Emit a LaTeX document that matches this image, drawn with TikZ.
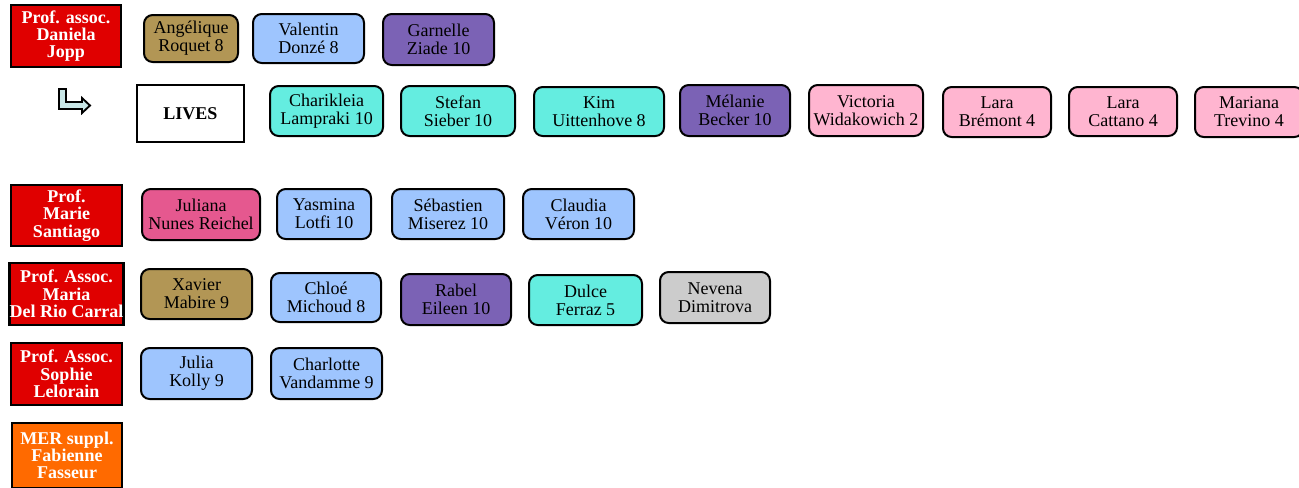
\documentclass[tikz,border=0pt]{standalone}
\usepackage{fontspec}
\setmainfont{Liberation Serif}
\definecolor{profred}{HTML}{E00000}
\definecolor{merorange}{HTML}{FF6A00}
\definecolor{tan}{HTML}{B29655}
\definecolor{lblue}{HTML}{9EC5FE}
\definecolor{purp}{HTML}{7B62B5}
\definecolor{cyanb}{HTML}{64EDE0}
\definecolor{pinkb}{HTML}{FFB5D0}
\definecolor{rose}{HTML}{E5588F}
\definecolor{grayb}{HTML}{CCCCCC}
\definecolor{arrowfill}{HTML}{C8E6E6}
\tikzset{
  sz/.style 2 args={minimum width=#1*0.75pt-1.5pt, minimum height=#2*0.75pt-1.5pt},
  prof/.style={draw=black, line width=1.6pt, fill=profred, text=white, align=center, inner sep=0pt,
    font=\fontsize{13.5}{13}\selectfont\bfseries},
  stud/.style={draw=black, line width=1.5pt, rounded corners=6.5pt, align=center, inner sep=0pt,
    font=\fontsize{13.5}{13.5}\selectfont},
  lives/.style={draw=black, line width=1.2pt, fill=white, align=center, inner sep=0pt,
    font=\fontsize{13.5}{13.5}\selectfont\bfseries},
}
\begin{document}
\begin{tikzpicture}[x=0.75pt, y=-0.75pt]
\useasboundingbox (0,0) rectangle (1299,487);
% professors
\node[prof, sz={112}{64}] (p1) at (66,36) {Prof. assoc.\\Daniela\\Jopp};
\node[prof, sz={113}{63}] (p2) at (66.5,215.5) {Prof.\\Marie\\Santiago};
\node[prof, sz={113}{64}] (p3) at (66.5,294) {Prof. Assoc.\\Maria\\Del Rio Carral};
\node[prof, sz={113}{64}] (p4) at (66.5,374) {Prof. Assoc.\\Sophie\\Lelorain};
\node[prof, sz={112}{67}, fill=merorange] (p5) at (67,455.5) {MER suppl.\\Fabienne\\Fasseur};
% row 1
\node[stud, sz={96}{49}, fill=tan] (a1) at (191,38.5) {Angélique\\Roquet 8};
\node[stud, sz={113}{51}, fill=lblue] (a2) at (308.5,38.5) {Valentin\\Donzé 8};
\node[stud, sz={113}{53}, fill=purp] (a3) at (438.5,39.5) {Garnelle\\Ziade 10};
% arrow glyph
\draw[line width=1.4pt, fill=arrowfill, line join=miter]
  (59,89) -- (66,89) -- (66,102) -- (82,102) -- (82,98) -- (90,105.5) -- (82,113) -- (82,109) -- (59,109) -- cycle;
% LIVES row
\node[lives, sz={109}{59}] (lives) at (190.5,113.5) {LIVES};
\node[stud, sz={115}{52}, fill=cyanb] (b1) at (326.5,111) {Charikleia\\Lampraki 10};
\node[stud, sz={116}{52}, fill=cyanb] (b2) at (458,111) {Stefan\\Sieber 10};
\node[stud, sz={132}{51}, fill=cyanb] (b3) at (599,111.5) {Kim\\Uittenhove 8};
\node[stud, sz={112}{53}, fill=purp] (b4) at (735,110.5) {Mélanie\\Becker 10};
\node[stud, sz={116}{53}, fill=pinkb] (b5) at (866,110.5) {Victoria\\Widakowich 2};
\node[stud, sz={110}{52}, fill=pinkb] (b6) at (997,112) {Lara\\Brémont 4};
\node[stud, sz={110}{51}, fill=pinkb] (b7) at (1123,111.5) {Lara\\Cattano 4};
\node[stud, sz={110}{52}, fill=pinkb] (b8) at (1249,112) {Mariana\\Trevino 4};
% Santiago row
\node[stud, sz={120}{53}, fill=rose] (c1) at (201,214.5) {Juliana\\Nunes Reichel};
\node[stud, sz={96}{52}, fill=lblue] (c2) at (324,214) {Yasmina\\Lotfi 10};
\node[stud, sz={114}{52}, fill=lblue] (c3) at (448,214) {Sébastien\\Miserez 10};
\node[stud, sz={113}{52}, fill=lblue] (c4) at (578.5,214) {Claudia\\Véron 10};
% Carral row
\node[stud, sz={113}{52}, fill=tan] (d1) at (196.5,294) {Xavier\\Mabire 9};
\node[stud, sz={112}{51}, fill=lblue] (d2) at (326,297.5) {Chloé\\Michoud 8};
\node[stud, sz={112}{53}, fill=purp] (d3) at (456,299.5) {Rabel\\Eileen 10};
\node[stud, sz={115}{52}, fill=cyanb] (d4) at (585.5,300) {Dulce\\Ferraz 5};
\node[stud, sz={112}{53}, fill=grayb] (d5) at (715,297.5) {Nevena\\Dimitrova};
% Lelorain row
\node[stud, sz={113}{53}, fill=lblue] (e1) at (196.5,373.5) {Julia\\Kolly 9};
\node[stud, sz={113}{53}, fill=lblue] (e2) at (326.5,373.5) {Charlotte\\Vandamme 9};
\end{tikzpicture}
\end{document}
